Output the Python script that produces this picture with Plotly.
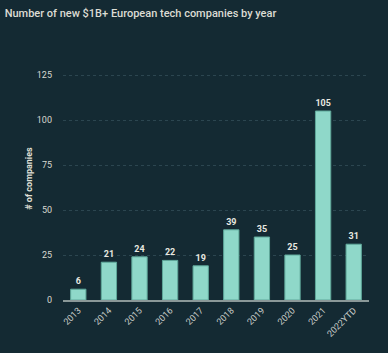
import plotly.graph_objects as go

years = ["2013", "2014", "2015", "2016", "2017", "2018", "2019", "2020", "2021", "2022YTD"]
counts = [6, 21, 24, 22, 19, 39, 35, 25, 105, 31]
y_ticks = [0, 25, 50, 75, 100, 125]

bg = "#142a33"
bar_color = "#8fd8c9"

fig = go.Figure(go.Bar(
    x=years, y=counts,
    marker=dict(color=bar_color, line=dict(color="#5fa89a", width=1)),
    text=[f"<b>{c}</b>" for c in counts], textposition="outside",
    textfont=dict(color="#e8e8e0", size=9, family="Roboto"),
    cliponaxis=False,
))

fig.update_layout(
    width=388, height=353,
    paper_bgcolor=bg, plot_bgcolor=bg,
    margin=dict(l=63, r=19, t=57, b=53),
    bargap=0.5,
    showlegend=False,
    title=dict(text="Number of new $1B+ European tech companies by year",
               x=0.012, xanchor="left", y=0.962, yanchor="middle",
               font=dict(size=11, color="#dcdcd4", family="Roboto", weight=500)),
    font=dict(family="Roboto", color="#d8d8d0"),
)
fig.update_xaxes(
    tickangle=-45, tickfont=dict(size=9, color="#c8ccc8"),
    showgrid=False, showline=True, linecolor="#8a9898", linewidth=1.5,
    ticks="", ticklen=0,
)
fig.update_yaxes(
    range=[0, 135], tickvals=y_ticks,
    tickfont=dict(size=9, color="#d8d8d0"),
    showgrid=True, gridcolor="#2c4650", griddash="dot", gridwidth=1,
    zeroline=False, ticklabelstandoff=10,
    title=dict(text="<b># of companies</b>", font=dict(size=9, color="#e0e0d8"), standoff=2),
)
fig.write_html("out.html")
